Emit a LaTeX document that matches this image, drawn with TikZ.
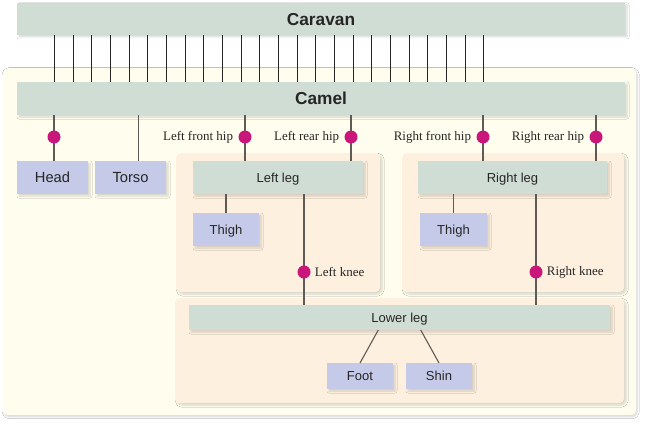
\documentclass[tikz,border=0pt]{standalone}
\usepackage{fontspec}
\setmainfont{Liberation Serif}
\setsansfont{Liberation Sans}
\usetikzlibrary{shadows,shadows.blur,calc}
\definecolor{barfill}{RGB}{207,221,212}
\definecolor{partfill}{RGB}{197,202,232}
\definecolor{peach}{RGB}{253,240,223}
\definecolor{cream}{RGB}{254,253,238}
\definecolor{jointc}{RGB}{200,22,122}
\definecolor{linkc}{RGB}{95,90,85}
\tikzset{
  shad/.style={blur shadow={shadow xshift=2pt,shadow yshift=-2pt,shadow blur radius=2pt,shadow blur steps=8,shadow opacity=16}},
  boxbase/.style={shad, inner sep=0pt, outer sep=0pt, anchor=north west, text=black!85, text depth=0pt},
  bigbar/.style={boxbase, fill=barfill, font=\sffamily\bfseries\fontsize{17.3}{20}\selectfont},
  legbar/.style={boxbase, fill=barfill, font=\sffamily\fontsize{13}{15}\selectfont},
  part/.style={boxbase, fill=partfill, font=\sffamily\fontsize{13}{15}\selectfont},
  bigpart/.style={boxbase, fill=partfill, font=\sffamily\fontsize{14.7}{17}\selectfont},
  region/.style={shad, fill=peach, rounded corners=5pt, inner sep=0pt, anchor=north west},
  outerregion/.style={blur shadow={shadow xshift=1pt,shadow yshift=-1.5pt,shadow blur radius=2pt,shadow blur steps=8,shadow opacity=18}, fill=cream, rounded corners=5pt, inner sep=0pt, anchor=north west},
  jointdot/.style={circle, fill=jointc, minimum size=13pt, inner sep=0pt},
  jlabel/.style={font=\fontsize{13}{15}\selectfont, inner sep=0pt, text=black!85},
  link/.style={draw=linkc, line width=1.1pt},
  fine/.style={draw=black!85, line width=0.9pt},
}
\begin{document}
\begin{tikzpicture}[x=1pt,y=-1pt]
\fill[white] (0,0) rectangle (645,425);
\useasboundingbox (0,0) rectangle (645,425);
% outer camel container
\node[outerregion, minimum width=633pt, minimum height=347pt] (camelzone) at (3,68) {};
% caravan and camel bars
\node[bigbar, minimum width=608pt, minimum height=32pt] (caravan) at (17,3) {Caravan};
\node[bigbar, minimum width=608pt, minimum height=33pt] (camel) at (17,82) {Camel};
\foreach \i in {0,...,23} {
  \coordinate (c\i) at ({54.3+\i*18.68},0);
  \draw[fine] (caravan.south -| c\i) -- (camel.north -| c\i);
}
% regions
\node[region, minimum width=204pt, minimum height=139pt] (leftzone) at (176,153) {};
\node[region, minimum width=222pt, minimum height=139pt] (rightzone) at (402,153) {};
\node[region, minimum width=449pt, minimum height=105pt] (lowerzone) at (175,298) {};
% boxes
\node[bigpart, minimum width=71pt, minimum height=33pt] (head) at (17,161) {Head};
\node[bigpart, minimum width=71pt, minimum height=33pt] (torso) at (95,161) {Torso};
\node[legbar, minimum width=170pt, minimum height=33pt] (leftleg) at (193,161) {Left leg};
\node[legbar, minimum width=189pt, minimum height=33pt] (rightleg) at (418,161) {Right leg};
\node[part, minimum width=66pt, minimum height=33pt] (lthigh) at (193,213) {Thigh};
\node[part, minimum width=67pt, minimum height=33pt] (rthigh) at (420,213) {Thigh};
\node[legbar, minimum width=421pt, minimum height=25pt] (lowerleg) at (189,305) {Lower leg};
\node[part, minimum width=66pt, minimum height=26pt] (foot) at (327,363) {Foot};
\node[part, minimum width=66pt, minimum height=26pt] (shin) at (406,363) {Shin};
% joint positions
\coordinate (dheadc) at (54,137);
\coordinate (tx) at (138.5,0);
\coordinate (lfhc) at (245,137);
\coordinate (lrhc) at (351,137);
\coordinate (rfhc) at (483,137);
\coordinate (rrhc) at (596,137);
\coordinate (lkneec) at (304,272);
\coordinate (rkneec) at (536,272);
\coordinate (fa) at (378.3,0);
\coordinate (sa) at (420.7,0);
% links
\draw[link] (camel.south -| dheadc) -- (head.north -| dheadc);
\draw[link] (camel.south -| tx) -- (torso.north -| tx);
\draw[link] (camel.south -| lfhc) -- (leftleg.north -| lfhc);
\draw[link] (camel.south -| lrhc) -- (leftleg.north -| lrhc);
\draw[link] (camel.south -| rfhc) -- (rightleg.north -| rfhc);
\draw[link] (camel.south -| rrhc) -- (rightleg.north -| rrhc);
\draw[link] (leftleg.south -| lthigh) -- (lthigh.north);
\draw[link] (rightleg.south -| rthigh) -- (rthigh.north);
\draw[link] (leftleg.south -| lkneec) -- (lowerleg.north -| lkneec);
\draw[link] (rightleg.south -| rkneec) -- (lowerleg.north -| rkneec);
\draw[link] (lowerleg.south -| fa) -- (foot.north);
\draw[link] (lowerleg.south -| sa) -- (shin.north);
% joints
\node[jointdot] (dhead) at (dheadc) {};
\node[jointdot] (lfh) at (lfhc) {};
\node[jointdot] (lrh) at (lrhc) {};
\node[jointdot] (rfh) at (rfhc) {};
\node[jointdot] (rrh) at (rrhc) {};
\node[jointdot] (lknee) at (lkneec) {};
\node[jointdot] (rknee) at (rkneec) {};
% labels
\node[jlabel, anchor=east, xshift=-5pt] (llfh) at (lfh.west) {Left front hip};
\node[jlabel, anchor=east, xshift=-5pt] (llrh) at (lrh.west) {Left rear hip};
\node[jlabel, anchor=east, xshift=-5pt] (lrfh) at (rfh.west) {Right front hip};
\node[jlabel, anchor=east, xshift=-5pt] (lrrh) at (rrh.west) {Right rear hip};
\node[jlabel, anchor=west, xshift=4pt] (llknee) at (lknee.east) {Left knee};
\node[jlabel, anchor=west, xshift=4pt] (lrknee) at (rknee.east) {Right knee};
\end{tikzpicture}
\end{document}
